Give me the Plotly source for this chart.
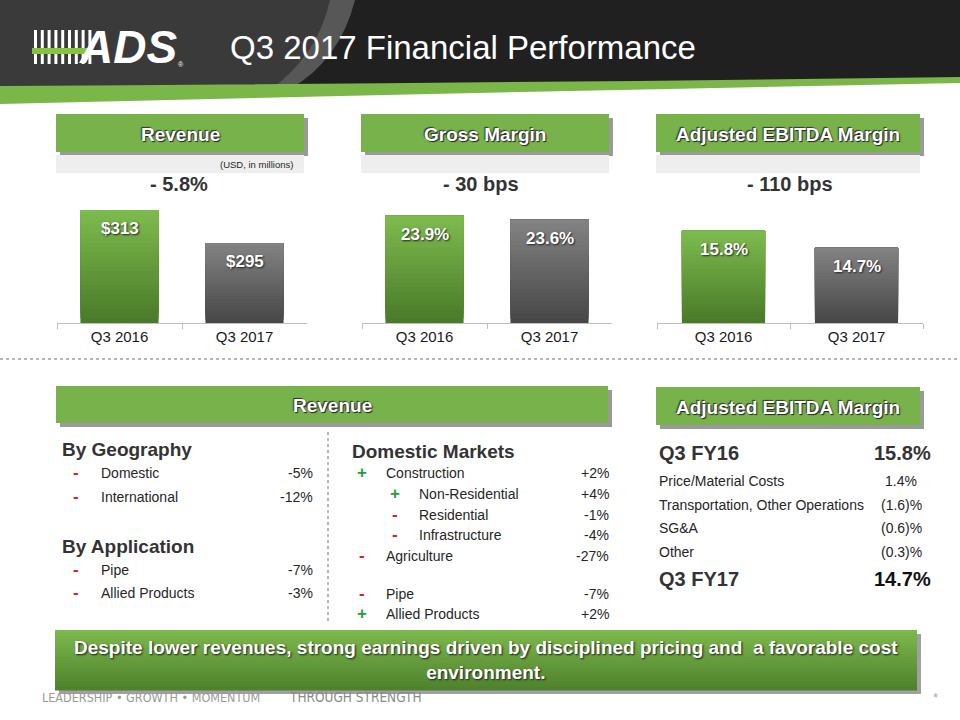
import plotly.graph_objects as go

W, H = 960, 720
def X(p): return p / W
def Y(p): return 1 - p / H

# ---------------- data ----------------
categories = ["Q3 2016", "Q3 2017"]
revenue = [313, 295]
gross_margin = [23.9, 23.6]
ebitda_margin = [15.8, 14.7]

revenue_change = "- 5.8%"
gross_change = "- 30 bps"
ebitda_change = "- 110 bps"

geo_labels = ["Domestic", "International"]
geo_signs = ["-", "-"]
geo_values = ["-5%", "-12%"]

app_labels = ["Pipe", "Allied Products"]
app_signs = ["-", "-"]
app_values = ["-7%", "-3%"]

dom_labels = ["Construction", "Non-Residential", "Residential", "Infrastructure",
              "Agriculture", "Pipe", "Allied Products"]
dom_signs = ["+", "+", "-", "-", "-", "-", "+"]
dom_values = ["+2%", "+4%", "-1%", "-4%", "-27%", "-7%", "+2%"]
dom_indent = [0, 1, 1, 1, 0, 0, 0]

bridge_labels = ["Price/Material Costs", "Transportation, Other Operations", "SG&A", "Other"]
bridge_values = ["1.4%", "(1.6)%", "(0.6)%", "(0.3)%"]
bridge_start = ("Q3 FY16", "15.8%")
bridge_end = ("Q3 FY17", "14.7%")

# ---------------- styles ----------------
GREEN = "#78b24a"
FONT = "Liberation Sans, Arial, sans-serif"
NARROW = "Liberation Sans Narrow, Arial Narrow, DejaVu Sans Condensed, sans-serif"
TXT = "#262626"

fig = go.Figure()
shapes = []
ann = []

def hexmix(a, b, t):
    a = [int(a[i:i+2], 16) for i in (1, 3, 5)]
    b = [int(b[i:i+2], 16) for i in (1, 3, 5)]
    c = [round(a[k] + (b[k] - a[k]) * t) for k in range(3)]
    return "#%02x%02x%02x" % tuple(c)

def rect(x0, y0, x1, y1, color, layer="below"):
    shapes.append(dict(type="rect", xref="paper", yref="paper",
                       x0=X(x0), x1=X(x1), y0=Y(y1), y1=Y(y0),
                       fillcolor=color, line=dict(width=0), layer=layer))

def path(pts, color, layer="below"):
    shapes.append(dict(type="path", xref="paper", yref="paper", path=pts,
                       fillcolor=color, line=dict(width=0), layer=layer))

def P(x, y):
    return f"{X(x):.5f},{Y(y):.5f}"

def text(x, y, s, size=14, color=TXT, bold=False, xanchor="left", family=FONT,
         shadow=None, italic=False, yanchor="middle"):
    f = dict(size=size, color=color, family=family,
             weight="bold" if bold else "normal",
             style="italic" if italic else "normal")
    if shadow:
        f["shadow"] = shadow
    ann.append(dict(xref="paper", yref="paper", x=X(x), y=Y(y), text=s,
                    showarrow=False, xanchor=xanchor, yanchor=yanchor, font=f))

def header_box(x0, y0, x1, y1, label, size=19):
    rect(x0 + 4, y0 + 4, x1 + 4, y1 + 4, "#9a9a9a")
    rect(x0, y0, x1, y1, GREEN)
    text((x0 + x1) / 2, (y0 + y1) / 2 + 1, label, size=size, color="white",
         bold=True, xanchor="center", shadow="1px 1px 1px #222, -1px -1px 1px #333")

# ---------------- header band ----------------
path(f"M{P(0,0)} L{P(960,0)} L{P(960,80)} Q{P(500,84)} {P(0,92)} Z", "#202020")
path(f"M{P(0,0)} L{P(350,0)} Q{P(335,55)} {P(285,90)} L{P(0,92)} Z", "#3a3a3a")
path(f"M{P(330,0)} L{P(355,0)} Q{P(340,60)} {P(290,89)} L{P(270,90)} Q{P(318,55)} {P(330,0)} Z", "#575757")
path(f"M{P(0,86)} Q{P(500,83)} {P(960,77)} L{P(960,83)} Q{P(500,92)} {P(0,104)} Z", "#7ab648")

# logo
for i in range(9):
    x = 34 + 6.8 * i
    rect(x, 30, x + 3, 64, "white")
rect(32, 48, 92, 54, "#86c440")
text(128, 47, "ADS", size=46, color="white", bold=True, xanchor="center", italic=True)
text(181, 64, "®", size=7, color="white", xanchor="center")

text(228, 48, "Q3 2017 Financial Performance", size=33, color="white", xanchor="left")

# ---------------- top headers ----------------
header_box(56, 114, 304, 152, "Revenue")
header_box(361, 114, 609, 152, "Gross Margin")
header_box(656, 114, 920, 152, "Adjusted EBITDA Margin")
for x0, x1 in [(56, 304), (361, 609), (656, 920)]:
    rect(x0, 155, x1, 173, "#eeeeee")
text(295, 165, "(USD, in millions)", size=9.5, color=TXT, xanchor="right")
text(179, 184, revenue_change, size=20, bold=True, xanchor="center", color="#333")
text(481, 184, gross_change, size=20, bold=True, xanchor="center", color="#333")
text(790, 184, ebitda_change, size=20, bold=True, xanchor="center", color="#333")

# ---------------- bar charts ----------------
charts = [
    ("x", "y", revenue, (251.4, 321.2), lambda v: f"${v:.0f}", (57, 307)),
    ("x2", "y2", gross_margin, (15.9, 25.45), lambda v: f"{v:.1f}%", (362, 612)),
    ("x3", "y3", ebitda_margin, (9.85, 18.1), lambda v: f"{v:.1f}%", (657, 923)),
]
tops = [("#7dba4d", "#4a7b29"), ("#828282", "#474747")]
NSL = 24
for xa, ya, vals, rng, fmt, dom in charts:
    lo = rng[0]
    for i in range(NSL):
        t = i / (NSL - 1)
        cols = [hexmix(tops[k][1], tops[k][0], t) for k in range(2)]
        bases = [lo + (v - lo) * i / NSL for v in vals]
        fig.add_trace(go.Bar(
            x=categories, y=[v - b for v, b in zip(vals, bases)],
            base=bases,
            marker=dict(color=cols, line=dict(width=0)),
            xaxis=xa, yaxis=ya, hoverinfo="skip", showlegend=False))
    for c, v in zip(categories, vals):
        ann.append(dict(xref=xa, yref=ya, x=c, y=v, text=fmt(v), showarrow=False,
                        yanchor="top", yshift=-7,
                        font=dict(size=17, color="white", family=FONT, weight="bold",
                                  shadow="1px 1px 2px #222")))

axis_common = dict(showline=True, linecolor="#bfbfbf", linewidth=1, ticks="outside",
                   tickson="boundaries", ticklen=5, tickcolor="#bfbfbf",
                   showgrid=False, zeroline=False, fixedrange=True,
                   tickfont=dict(size=15, color="#1a1a1a", family=FONT))
layout_axes = {}
for idx, (xa, ya, vals, rng, fmt, dom) in enumerate(charts):
    sx = "" if idx == 0 else str(idx + 1)
    layout_axes["xaxis" + sx] = dict(domain=[X(dom[0]), X(dom[1])], anchor=ya, **axis_common)
    layout_axes["yaxis" + sx] = dict(domain=[Y(323), Y(195)], anchor=xa, range=list(rng),
                                     visible=False, fixedrange=True)

# separators
shapes.append(dict(type="line", xref="paper", yref="paper", x0=X(0), x1=X(960),
                   y0=Y(359), y1=Y(359), line=dict(color="#a0a0a0", width=1.5, dash="dot"),
                   layer="below"))
shapes.append(dict(type="line", xref="paper", yref="paper", x0=X(328), x1=X(328),
                   y0=Y(432), y1=Y(622), line=dict(color="#a0a0a0", width=1.5, dash="dot"),
                   layer="below"))

# ---------------- bottom headers ----------------
header_box(56, 386, 608, 423, "Revenue")
header_box(656, 387, 920, 425, "Adjusted EBITDA Margin")

def sign_text(x, y, s):
    col = "#1fa03a" if s == "+" else "#e0201e"
    text(x, y - 1, "<b>+</b>" if s == "+" else "<b>-</b>", size=17, color=col, xanchor="center")

text(60, 449, "By Geography", size=19, bold=True, color="#333")
for k, (lab, s, v) in enumerate(zip(geo_labels, geo_signs, geo_values)):
    y = 473 + 24 * k
    sign_text(76, y, s)
    text(99, y, lab, size=14)
    text(315, y, v, size=14, xanchor="right")

text(60, 546, "By Application", size=19, bold=True, color="#333")
for k, (lab, s, v) in enumerate(zip(app_labels, app_signs, app_values)):
    y = 570 + 23 * k
    sign_text(76, y, s)
    text(99, y, lab, size=14)
    text(315, y, v, size=14, xanchor="right")

text(350, 451, "Domestic Markets", size=19, bold=True, color="#333")
dom_y = [473, 494, 515, 535, 556, 594, 614]
for lab, s, v, ind, y in zip(dom_labels, dom_signs, dom_values, dom_indent, dom_y):
    sign_text(362 + 33 * ind, y, s)
    text(384 + 33 * ind, y, lab, size=14)
    text(611, y, v, size=14, xanchor="right")

text(657, 453, bridge_start[0], size=20, bold=True, color="#333")
text(933, 453, bridge_start[1], size=20, bold=True, color="#333", xanchor="right")
b_y = [481, 505, 528, 552]
for lab, v, y in zip(bridge_labels, bridge_values, b_y):
    text(657, y, lab, size=14)
    text(924 if v.startswith("(") else 919, y, v, size=14, xanchor="right")
text(657, 579, bridge_end[0], size=20, bold=True, color="#333")
text(933, 579, bridge_end[1], size=20, bold=True, color="#111", xanchor="right")

# ---------------- bottom banner ----------------
rect(59, 634, 921, 694, "#a0a0a0")
NB = 20
for i in range(NB):
    y0 = 630 + 60 * i / NB
    rect(55, y0, 917, y0 + 60 / NB + 0.6, hexmix("#7cb84b", "#4f822d", i / (NB - 1)))
text(486, 660,
     "Despite lower revenues, strong earnings driven by disciplined pricing and  a favorable cost<br>environment.",
     size=19, color="white", bold=True, xanchor="center", family=FONT,
     shadow="1px 1px 2px #1a1a1a")

# footer
text(40, 697, "LEADERSHIP • GROWTH • MOMENTUM", size=12.5, color="#9a9a9a", family=NARROW)
text(287, 697, "THROUGH STRENGTH", size=13.5, color="#8a8a8a", family=NARROW)
text(935, 697, "*", size=13, color="#aaaaaa", xanchor="center")

fig.update_layout(
    width=W, height=H, margin=dict(l=0, r=0, t=0, b=0),
    paper_bgcolor="white", plot_bgcolor="rgba(0,0,0,0)",
    barmode="overlay", bargap=0.375, showlegend=False,
    shapes=shapes, annotations=ann, font=dict(family=FONT),
    **layout_axes,
)

fig.write_html("out.html", config={"displayModeBar": False},
               post_script="document.body.style.margin='0px';document.body.style.overflow='hidden';")
